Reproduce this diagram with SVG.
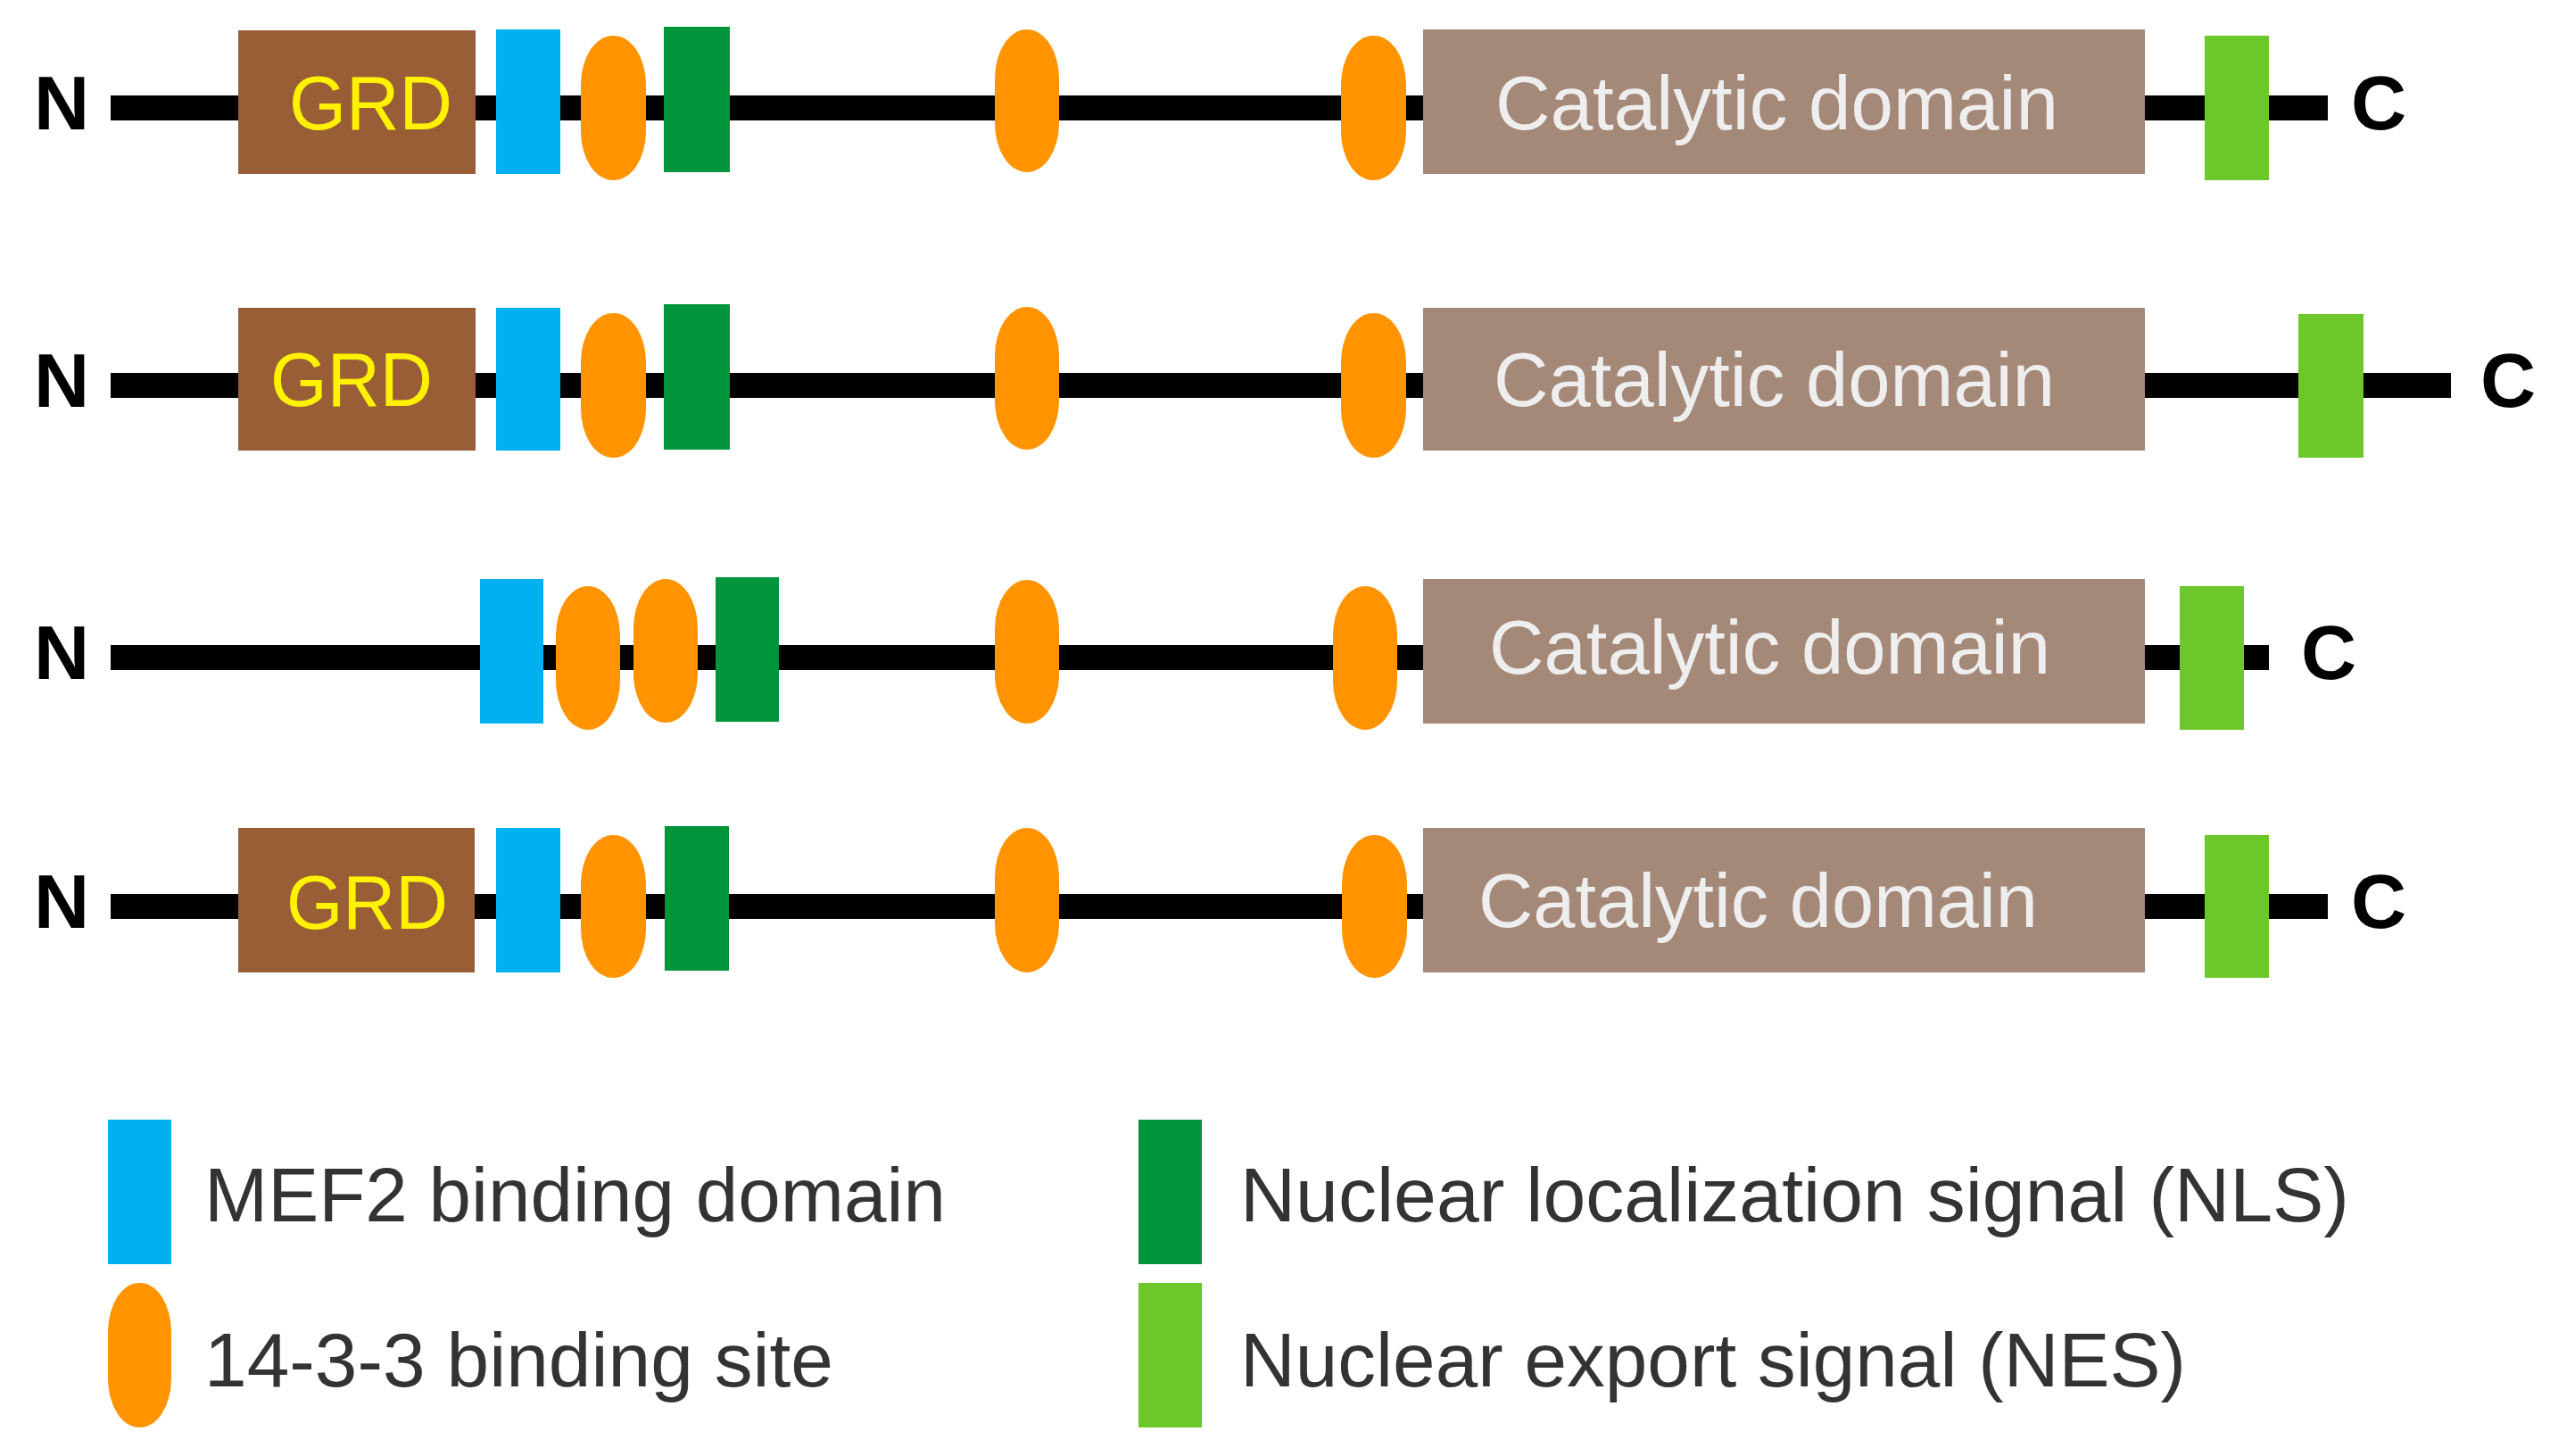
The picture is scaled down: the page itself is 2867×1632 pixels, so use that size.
<svg xmlns="http://www.w3.org/2000/svg" width="2867" height="1632" viewBox="0 0 2867 1632">
<style>
.grd{fill:#995E36}.mef{fill:#00B0F0}.o{fill:#FF9400}.nls{fill:#00953A}.nes{fill:#6CC72A}.cat{fill:#A48878}
.gt{font-family:"Liberation Sans",Arial,sans-serif;font-size:86px;fill:#FFF200}
.ct{font-family:"Liberation Sans",Arial,sans-serif;font-size:86px;fill:#EEEEEE}
.nc{font-family:"Liberation Sans",Arial,sans-serif;font-size:86px;font-weight:bold;fill:#000}
.lt{font-family:"Liberation Sans",Arial,sans-serif;font-size:85px;fill:#333}
.bb{stroke:#000;stroke-width:28}
</style>
<g id="connectors">
<line class="bb" x1="124" y1="121" x2="2609" y2="121"/>
<line class="bb" x1="124" y1="432" x2="2747" y2="432"/>
<line class="bb" x1="124" y1="737" x2="2543" y2="737"/>
<line class="bb" x1="124" y1="1016" x2="2609" y2="1016"/>
</g>
<g id="row1">
<text class="nc" x="38" y="145">N</text>
<rect class="grd" x="267" y="34" width="266" height="161"/>
<text class="gt" x="324" y="145" textLength="183" lengthAdjust="spacingAndGlyphs">GRD</text>
<rect class="mef" x="556" y="33" width="72" height="162"/>
<rect class="o" x="651" y="40" width="73" height="162" rx="36" ry="55"/>
<rect class="nls" x="744" y="30" width="74" height="163"/>
<rect class="o" x="1115" y="33" width="72" height="160" rx="36" ry="55"/>
<rect class="o" x="1503" y="40" width="73" height="162" rx="36" ry="55"/>
<rect class="cat" x="1595" y="33" width="809" height="162"/>
<text class="ct" x="1676" y="145" textLength="631" lengthAdjust="spacingAndGlyphs">Catalytic domain</text>
<rect class="nes" x="2471" y="40" width="72" height="162"/>
<text class="nc" x="2635" y="145">C</text>
</g>
<g id="row2">
<text class="nc" x="38" y="456">N</text>
<rect class="grd" x="267" y="345" width="266" height="160"/>
<text class="gt" x="303" y="455" textLength="182" lengthAdjust="spacingAndGlyphs">GRD</text>
<rect class="mef" x="556" y="345" width="72" height="160"/>
<rect class="o" x="651" y="351" width="73" height="162" rx="36" ry="55"/>
<rect class="nls" x="744" y="341" width="74" height="163"/>
<rect class="o" x="1115" y="344" width="72" height="160" rx="36" ry="55"/>
<rect class="o" x="1503" y="351" width="73" height="162" rx="36" ry="55"/>
<rect class="cat" x="1595" y="345" width="809" height="160"/>
<text class="ct" x="1674" y="455" textLength="629" lengthAdjust="spacingAndGlyphs">Catalytic domain</text>
<rect class="nes" x="2576" y="352" width="73" height="161"/>
<text class="nc" x="2780" y="456">C</text>
</g>
<g id="row3">
<text class="nc" x="38" y="761">N</text>
<rect class="mef" x="538" y="649" width="71" height="162"/>
<rect class="o" x="623" y="657" width="72" height="161" rx="36" ry="55"/>
<rect class="o" x="710" y="649" width="72" height="161" rx="36" ry="55"/>
<rect class="nls" x="802" y="647" width="71" height="162"/>
<rect class="o" x="1115" y="650" width="72" height="161" rx="36" ry="55"/>
<rect class="o" x="1494" y="657" width="72" height="161" rx="36" ry="55"/>
<rect class="cat" x="1595" y="649" width="809" height="162"/>
<text class="ct" x="1669" y="755" textLength="629" lengthAdjust="spacingAndGlyphs">Catalytic domain</text>
<rect class="nes" x="2443" y="657" width="72" height="161"/>
<text class="nc" x="2579" y="761">C</text>
</g>
<g id="row4">
<text class="nc" x="38" y="1040">N</text>
<rect class="grd" x="267" y="928" width="265" height="162"/>
<text class="gt" x="321" y="1041" textLength="181" lengthAdjust="spacingAndGlyphs">GRD</text>
<rect class="mef" x="556" y="928" width="72" height="162"/>
<rect class="o" x="651" y="936" width="73" height="160" rx="36" ry="55"/>
<rect class="nls" x="745" y="926" width="72" height="162"/>
<rect class="o" x="1115" y="928" width="72" height="162" rx="36" ry="55"/>
<rect class="o" x="1504" y="936" width="73" height="160" rx="36" ry="55"/>
<rect class="cat" x="1595" y="928" width="809" height="162"/>
<text class="ct" x="1657" y="1039" textLength="627" lengthAdjust="spacingAndGlyphs">Catalytic domain</text>
<rect class="nes" x="2471" y="936" width="72" height="160"/>
<text class="nc" x="2635" y="1040">C</text>
</g>
<g id="legend">
<rect class="mef" x="121" y="1255" width="71" height="162"/>
<text class="lt" x="229" y="1369" textLength="831" lengthAdjust="spacingAndGlyphs">MEF2 binding domain</text>
<rect class="o" x="121" y="1438" width="71" height="162" rx="35" ry="55"/>
<text class="lt" x="229" y="1554" textLength="705" lengthAdjust="spacingAndGlyphs">14-3-3 binding site</text>
<rect class="nls" x="1276" y="1255" width="71" height="162"/>
<text class="lt" x="1390" y="1369" textLength="1243" lengthAdjust="spacingAndGlyphs">Nuclear localization signal (NLS)</text>
<rect class="nes" x="1276" y="1438" width="71" height="162"/>
<text class="lt" x="1390" y="1554" textLength="1060" lengthAdjust="spacingAndGlyphs">Nuclear export signal (NES)</text>
</g>
</svg>
